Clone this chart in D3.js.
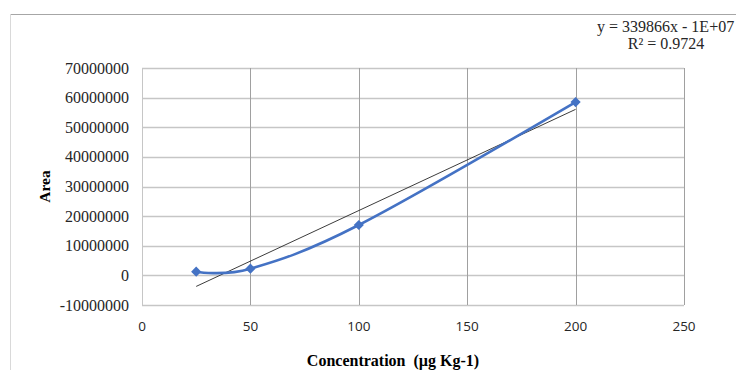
<!DOCTYPE html>
<html>
<head>
<meta charset="utf-8">
<script src="https://cdn.jsdelivr.net/npm/d3@7"></script>
<style>
  body { margin: 0; background: #fff; }
  svg { display: block; }
</style>
</head>
<body>
<div id="chart"></div>
<script>
// concentration values and measured peak areas
var concentrations = [25, 50, 100, 200];
var areas = [1250000, 2260000, 17000000, 58500000];
var xTicks = [0, 50, 100, 150, 200, 250];
var yTicks = [-10000000, 0, 10000000, 20000000, 30000000, 40000000, 50000000, 60000000, 70000000];
var equationText = "y = 339866x - 1E+07";
var r2Text = "R² = 0.9724";

var width = 736, height = 370;
var plot = {left: 142, right: 684, top: 68, bottom: 305};

var svg = d3.select("#chart").append("svg")
    .attr("width", width)
    .attr("height", height);

// chart border
svg.append("line")
    .attr("x1", 10).attr("x2", width).attr("y1", 14.5).attr("y2", 14.5)
    .style("stroke", "#a6a6a6").style("stroke-width", 1);
svg.append("line")
    .attr("x1", 10.5).attr("x2", 10.5).attr("y1", 14).attr("y2", height)
    .style("stroke", "#d9d9d9").style("stroke-width", 1);

var x = d3.scaleLinear().domain([0, 250]).range([plot.left, plot.right]);
var y = d3.scaleLinear().domain([-10000000, 70000000]).range([plot.bottom, plot.top]);

// horizontal gridlines
svg.append("g")
    .selectAll("line")
    .data(yTicks)
    .enter().append("line")
    .attr("x1", plot.left).attr("x2", plot.right)
    .attr("y1", function(d) { return Math.round(y(d)) + 0.5; })
    .attr("y2", function(d) { return Math.round(y(d)) + 0.5; })
    .style("stroke", "#c6c6c6").style("stroke-width", 1.5);

// vertical gridlines
svg.append("g")
    .selectAll("line")
    .data(xTicks)
    .enter().append("line")
    .attr("x1", function(d) { return Math.round(x(d)) + 0.5; })
    .attr("x2", function(d) { return Math.round(x(d)) + 0.5; })
    .attr("y1", plot.top).attr("y2", plot.bottom)
    .style("stroke", function(d) { return d === 0 ? "#c6c6c6" : "#a0a0a0"; })
    .style("stroke-width", 1);

// y axis labels
svg.append("g")
    .selectAll("text")
    .data(yTicks)
    .enter().append("text")
    .attr("x", plot.left - 13)
    .attr("y", function(d) { return y(d) + 5.5; })
    .attr("text-anchor", "end")
    .style("font-family", "'Liberation Serif', serif")
    .style("font-size", "16px")
    .style("fill", "#262626")
    .text(function(d) { return d; });

// x axis labels
svg.append("g")
    .selectAll("text")
    .data(xTicks)
    .enter().append("text")
    .attr("x", function(d) { return x(d); })
    .attr("y", plot.bottom + 26)
    .attr("text-anchor", "middle")
    .style("font-family", "'Open Sans', sans-serif")
    .style("font-size", "13.5px")
    .style("fill", "#262626")
    .text(function(d) { return d; });

// axis titles
svg.append("text")
    .attr("transform", "translate(50," + ((plot.top + plot.bottom) / 2) + ") rotate(-90)")
    .attr("text-anchor", "middle")
    .style("font-family", "'Liberation Serif', serif")
    .style("font-weight", "bold")
    .style("font-size", "15.5px")
    .text("Area");

svg.append("text")
    .attr("x", 393)
    .attr("y", 366)
    .attr("text-anchor", "middle")
    .style("font-family", "'Liberation Serif', serif")
    .style("font-weight", "bold")
    .style("font-size", "16px")
    .style("white-space", "pre")
    .attr("xml:space", "preserve")
    .text("Concentration  (µg Kg-1)");

// least squares trendline from the data
var pts = concentrations.map(function(c, i) { return [c, areas[i]]; });
var mx = d3.mean(concentrations), my = d3.mean(areas);
var sxy = d3.sum(pts, function(p) { return (p[0] - mx) * (p[1] - my); });
var sxx = d3.sum(pts, function(p) { return (p[0] - mx) * (p[0] - mx); });
var slope = sxy / sxx, intercept = my - slope * mx;
var xExt = d3.extent(concentrations);

svg.append("line")
    .attr("x1", x(xExt[0])).attr("y1", y(slope * xExt[0] + intercept))
    .attr("x2", x(xExt[1])).attr("y2", y(slope * xExt[1] + intercept))
    .style("stroke", "#262626").style("stroke-width", 0.9);

// smoothed data line
var line = d3.line()
    .x(function(d) { return x(d[0]); })
    .y(function(d) { return y(d[1]); })
    .curve(d3.curveCatmullRom.alpha(0));

svg.append("path")
    .datum(pts)
    .attr("d", line)
    .style("fill", "none")
    .style("stroke", "#4472c4")
    .style("stroke-width", 2.6);

// diamond markers
svg.append("g")
    .selectAll("path")
    .data(pts)
    .enter().append("path")
    .attr("transform", function(d) { return "translate(" + x(d[0]) + "," + y(d[1]) + ") rotate(45)"; })
    .attr("d", "M-3.6,-3.6H3.6V3.6H-3.6Z")
    .style("fill", "#4472c4");

// equation label
svg.append("text")
    .attr("x", 597)
    .attr("y", 32)
    .style("font-family", "'Liberation Serif', serif")
    .style("font-size", "16px")
    .style("fill", "#262626")
    .text(equationText);

svg.append("text")
    .attr("x", 666)
    .attr("y", 49)
    .attr("text-anchor", "middle")
    .style("font-family", "'Liberation Serif', serif")
    .style("font-size", "16px")
    .style("fill", "#262626")
    .text(r2Text);
</script>
</body>
</html>
